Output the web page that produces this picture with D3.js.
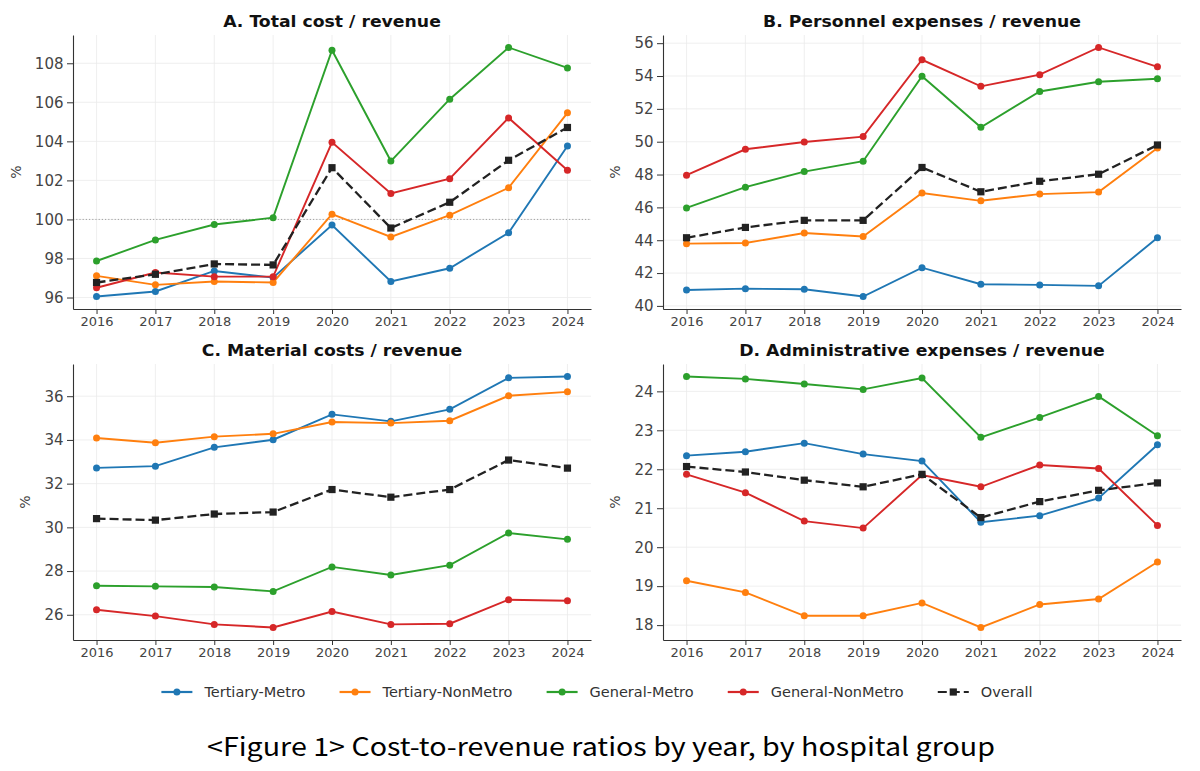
<!DOCTYPE html>
<html>
<head>
<meta charset="utf-8">
<script src="https://cdn.jsdelivr.net/npm/d3@7"></script>
<style>
  body { margin: 0; background: #fff; }
  svg { display: block; font-family: "DejaVu Sans", sans-serif; }
</style>
</head>
<body>
<div id="chart"></div>
<script>
// years on the x axis
const years = [2016, 2017, 2018, 2019, 2020, 2021, 2022, 2023, 2024];

// series order: Tertiary-Metro, Tertiary-NonMetro, General-Metro, General-NonMetro, Overall
const groups = ['Tertiary-Metro', 'Tertiary-NonMetro', 'General-Metro', 'General-NonMetro', 'Overall'];
const colors = ['#1f77b4', '#ff7f0e', '#2ca02c', '#d62728', '#222222'];

const titles = [
  'A. Total cost / revenue',
  'B. Personnel expenses / revenue',
  'C. Material costs / revenue',
  'D. Administrative expenses / revenue'
];

// A. total cost / revenue (%)
const totalCost = [
  [96.05, 96.31, 97.36, 97.02, 99.71, 96.82, 97.50, 99.32, 103.76],
  [97.11, 96.65, 96.82, 96.77, 100.27, 99.10, 100.22, 101.62, 105.46],
  [97.87, 98.95, 99.74, 100.09, 108.67, 102.99, 106.16, 108.81, 107.76],
  [96.50, 97.28, 97.07, 97.07, 103.95, 101.33, 102.09, 105.20, 102.52],
  [96.77, 97.19, 97.72, 97.67, 102.65, 99.56, 100.88, 103.03, 104.71]
];

// B. personnel expenses / revenue (%)
const personnel = [
  [40.97, 41.05, 41.01, 40.57, 42.33, 41.32, 41.28, 41.22, 44.15],
  [43.79, 43.83, 44.44, 44.23, 46.87, 46.40, 46.81, 46.93, 49.62],
  [45.97, 47.23, 48.18, 48.81, 53.99, 50.88, 53.06, 53.65, 53.83],
  [47.96, 49.54, 49.98, 50.31, 54.99, 53.37, 54.08, 55.74, 54.56],
  [44.15, 44.78, 45.21, 45.21, 48.43, 46.95, 47.59, 48.02, 49.80]
];

// C. material costs / revenue (%)
const material = [
  [32.72, 32.80, 33.66, 34.01, 35.17, 34.85, 35.40, 36.84, 36.90],
  [34.09, 33.87, 34.15, 34.28, 34.82, 34.77, 34.88, 36.02, 36.20],
  [27.33, 27.30, 27.27, 27.07, 28.19, 27.82, 28.27, 29.74, 29.45],
  [26.23, 25.94, 25.56, 25.42, 26.15, 25.56, 25.59, 26.69, 26.64],
  [30.40, 30.33, 30.61, 30.70, 31.73, 31.38, 31.73, 33.08, 32.71]
];

// D. administrative expenses / revenue (%)
const admin = [
  [22.35, 22.45, 22.67, 22.39, 22.21, 20.64, 20.81, 21.26, 22.63],
  [19.14, 18.84, 18.24, 18.24, 18.57, 17.94, 18.53, 18.67, 19.62],
  [24.38, 24.32, 24.19, 24.05, 24.34, 22.82, 23.33, 23.87, 22.86],
  [21.87, 21.40, 20.67, 20.49, 21.85, 21.55, 22.11, 22.02, 20.56],
  [22.07, 21.93, 21.72, 21.55, 21.87, 20.76, 21.17, 21.46, 21.65]
];

// y tick labels per panel
const ticksA = [96, 98, 100, 102, 104, 106, 108];
const ticksB = [40, 42, 44, 46, 48, 50, 52, 54, 56];
const ticksC = [26, 28, 30, 32, 34, 36];
const ticksD = [18, 19, 20, 21, 22, 23, 24];

const caption = '<Figure 1> Cost-to-revenue ratios by year, by hospital group';

// panel boxes (axes area in px)
const panels = [
  { title: titles[0], values: totalCost, ticks: ticksA, ref: 100, left: 73, right: 591, top: 35, bottom: 309 },
  { title: titles[1], values: personnel, ticks: ticksB, ref: null, left: 663, right: 1181, top: 35, bottom: 309 },
  { title: titles[2], values: material, ticks: ticksC, ref: null, left: 73, right: 591, top: 364, bottom: 640 },
  { title: titles[3], values: admin, ticks: ticksD, ref: null, left: 663, right: 1181, top: 364, bottom: 640 }
];

const svg = d3.select('#chart')
  .append('svg')
    .attr('width', 1200)
    .attr('height', 771);

panels.forEach(p => {
  const g = svg.append('g');

  const x = d3.scaleLinear()
    .domain([years[0] - 0.4, years[years.length - 1] + 0.4])
    .range([p.left, p.right]);

  // matplotlib style 5% margins
  const ext = d3.extent(p.values.flat());
  const pad = (ext[1] - ext[0]) * 0.05;
  const y = d3.scaleLinear()
    .domain([ext[0] - pad, ext[1] + pad])
    .range([p.bottom, p.top]);

  // grid
  g.append('g').selectAll('line')
    .data(years)
    .join('line')
      .attr('x1', d => x(d)).attr('x2', d => x(d))
      .attr('y1', p.top).attr('y2', p.bottom)
      .attr('stroke', '#ebebeb').attr('stroke-width', 0.8);
  g.append('g').selectAll('line')
    .data(p.ticks)
    .join('line')
      .attr('x1', p.left).attr('x2', p.right)
      .attr('y1', d => y(d)).attr('y2', d => y(d))
      .attr('stroke', '#ebebeb').attr('stroke-width', 0.8);

  // reference line at 100%
  if (p.ref != null) {
    g.append('line')
      .attr('x1', p.left).attr('x2', p.right)
      .attr('y1', y(p.ref)).attr('y2', y(p.ref))
      .attr('stroke', '#9a9a9a')
      .attr('stroke-width', 0.9)
      .attr('stroke-dasharray', '1.2,2');
  }

  // axes
  const xAxis = g.append('g')
    .attr('transform', `translate(0,${p.bottom})`)
    .call(d3.axisBottom(x).tickValues(years).tickFormat(d3.format('d'))
      .tickSize(5).tickSizeOuter(0).tickPadding(3));
  const yAxis = g.append('g')
    .attr('transform', `translate(${p.left},0)`)
    .call(d3.axisLeft(y).tickValues(p.ticks).tickFormat(d3.format('d'))
      .tickSize(6).tickSizeOuter(0).tickPadding(3.5));

  [xAxis, yAxis].forEach(a => {
    a.select('.domain').attr('stroke', '#333').attr('stroke-width', 1.1);
    a.selectAll('.tick line').attr('stroke', '#333').attr('stroke-width', 1);
    a.selectAll('.tick text')
      .attr('fill', '#444')
      .attr('font-family', '"DejaVu Sans", sans-serif');
  });
  xAxis.selectAll('.tick text').attr('font-size', 13);
  yAxis.selectAll('.tick text').attr('font-size', 15);

  // y label, placed left of tick labels
  const bb = yAxis.node().getBBox();
  g.append('text')
    .attr('transform', `translate(${p.left + bb.x - 14},${(p.top + p.bottom) / 2}) rotate(-90)`)
    .attr('text-anchor', 'middle')
    .attr('fill', '#444')
    .attr('font-size', 14)
    .text('%');

  // title, slightly widened like the reference
  const t = g.append('text')
    .attr('x', (p.left + p.right) / 2)
    .attr('y', p.top - 8)
    .attr('text-anchor', 'middle')
    .attr('font-weight', 'bold')
    .attr('font-size', 15)
    .attr('fill', '#111')
    .text(p.title);
  t.attr('textLength', t.node().getComputedTextLength() * 1.15)
   .attr('lengthAdjust', 'spacingAndGlyphs');

  // series lines
  const line = d3.line()
    .x((d, i) => x(years[i]))
    .y(d => y(d));

  p.values.forEach((vals, k) => {
    const isOverall = k === groups.length - 1;
    g.append('path')
      .datum(vals)
      .attr('d', line)
      .attr('fill', 'none')
      .attr('stroke', colors[k])
      .attr('stroke-width', isOverall ? 2.3 : 1.9)
      .attr('stroke-dasharray', isOverall ? '9,4' : null);

    if (isOverall) {
      g.append('g').selectAll('rect')
        .data(vals)
        .join('rect')
          .attr('x', (d, i) => x(years[i]) - 3.6)
          .attr('y', d => y(d) - 3.6)
          .attr('width', 7.2).attr('height', 7.2)
          .attr('fill', colors[k]);
    } else {
      g.append('g').selectAll('circle')
        .data(vals)
        .join('circle')
          .attr('cx', (d, i) => x(years[i]))
          .attr('cy', d => y(d))
          .attr('r', 3.5)
          .attr('fill', colors[k]);
    }
  });
});

// legend, centred under the panels
const legend = svg.append('g').attr('transform', 'translate(0,692)');
const items = legend.selectAll('g')
  .data(groups)
  .join('g');

items.append('line')
  .attr('x1', 0).attr('x2', 31)
  .attr('stroke', (d, i) => colors[i])
  .attr('stroke-width', 2.2)
  .attr('stroke-dasharray', (d, i) => i === groups.length - 1 ? '9,4' : null);
items.each(function (d, i) {
  const it = d3.select(this);
  if (i === groups.length - 1) {
    it.append('rect').attr('x', 11.9).attr('y', -3.6).attr('width', 7.2).attr('height', 7.2).attr('fill', colors[i]);
  } else {
    it.append('circle').attr('cx', 15.5).attr('cy', 0).attr('r', 3.5).attr('fill', colors[i]);
  }
});
items.append('text')
  .attr('x', 43)
  .attr('dy', '0.35em')
  .attr('font-size', 14.5)
  .attr('fill', '#333')
  .text(d => d);

const gap = 34;
let cursor = 0;
const offsets = [];
items.each(function () {
  offsets.push(cursor);
  cursor += this.getBBox().width + gap;
});
const total = cursor - gap;
const start = 597 - total / 2;
items.attr('transform', (d, i) => `translate(${start + offsets[i]},0)`);

// figure caption
svg.append('text')
  .attr('x', 601)
  .attr('y', 756)
  .attr('text-anchor', 'middle')
  .attr('font-family', '"Noto Sans CJK KR", "Noto Sans", sans-serif')
  .attr('font-size', 25)
  .attr('fill', '#000')
  .attr('textLength', 788)
  .attr('lengthAdjust', 'spacingAndGlyphs')
  .text(caption);
</script>
</body>
</html>
